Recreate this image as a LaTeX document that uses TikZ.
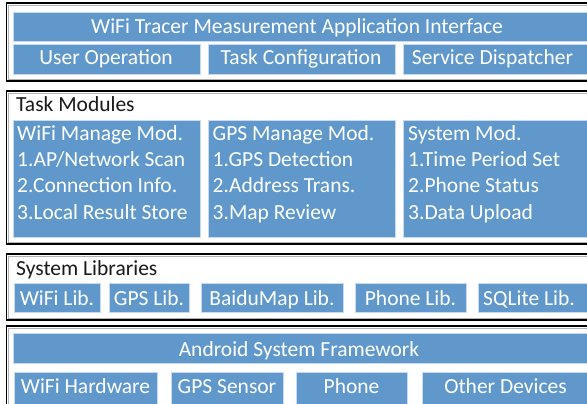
\documentclass[tikz,border=0pt]{standalone}
\usepackage{fontspec}
\setmainfont{Carlito}
\definecolor{blk}{RGB}{97,152,204}
\definecolor{blkedge}{RGB}{200,218,238}
\begin{document}
\begin{tikzpicture}[x=1pt,y=-1pt,
  outer/.style={draw=black,line width=1.7pt},
  inshade/.style={draw=black!30,line width=0.8pt},
  box/.style={fill=blk,draw=blkedge,line width=0.8pt},
  wtxt/.style={text=white,font=\fontsize{21.5}{26.4}\selectfont,inner sep=0pt,anchor=base},
  wltxt/.style={text=white,font=\fontsize{21.5}{26.4}\selectfont,inner sep=0pt,anchor=base west},
  ktxt/.style={text=black!90,font=\fontsize{21.5}{26.4}\selectfont,inner sep=0pt,anchor=base west}]
\useasboundingbox (0,0) rectangle (587,404);
\clip (0,0) rectangle (587,404);
\fill[white] (0,0) rectangle (587,404);

% outer frames
\draw[outer] (6.5,3) rectangle (600,81);
\draw[inshade] (8.5,5) -- (600,5) (8.5,5) -- (8.5,79) -- (600,79);
\draw[outer] (6.5,91) rectangle (600,244);
\draw[inshade] (8.5,93) -- (600,93) (8.5,93) -- (8.5,242) -- (600,242);
\draw[outer] (6.5,254) rectangle (600,320);
\draw[inshade] (8.5,256) -- (600,256) (8.5,256) -- (8.5,318) -- (600,318);
\draw[outer] (6.5,326) rectangle (600,420);
\draw[inshade] (8.5,328) -- (600,328) (8.5,328) -- (8.5,420);

% application interface layer
\path[box] (13,12) rectangle (592,41);
\node[wtxt] (api) at (297,33.3) {WiFi Tracer Measurement Application Interface};
\path[box] (13,44) rectangle (200,74);
\node[wtxt] (uop) at (106,65) {User Operation};
\path[box] (208,44) rectangle (395,74);
\node[wtxt] (tcf) at (301,65) {Task Configuration};
\path[box] (403,44) rectangle (592,74);
\node[wtxt] (sdp) at (492.5,65) {Service Dispatcher};

% task modules layer
\node[ktxt] (tm) at (16,111) {Task Modules};
\path[box] (13,120) rectangle (200,237);
\path[box] (208,120) rectangle (395,237);
\path[box] (403,120) rectangle (592,237);
\node[wltxt] (w0) at (17,140) {WiFi Manage Mod.};
\node[wltxt] (w1) at (17,166.4) {1.AP/Network Scan};
\node[wltxt] (w2) at (17,192.8) {2.Connection Info.};
\node[wltxt] (w3) at (17,219.2) {3.Local Result Store};
\node[wltxt] (g0) at (212.5,140) {GPS Manage Mod.};
\node[wltxt] (g1) at (212.5,166.4) {1.GPS Detection};
\node[wltxt] (g2) at (212.5,192.8) {2.Address Trans.};
\node[wltxt] (g3) at (212.5,219.2) {3.Map Review};
\node[wltxt] (s0) at (408,140) {System Mod.};
\node[wltxt] (s1) at (408,166.4) {1.Time Period Set};
\node[wltxt] (s2) at (408,192.8) {2.Phone Status};
\node[wltxt] (s3) at (408,219.2) {3.Data Upload};

% system libraries layer
\node[ktxt] (sl) at (16,275) {System Libraries};
\path[box] (14,283) rectangle (100,312);
\node[wtxt] (wl) at (57,305) {WiFi Lib.};
\path[box] (109,283) rectangle (189,312);
\node[wtxt] (gl) at (149,305) {GPS Lib.};
\path[box] (201,283) rectangle (343,312);
\node[wtxt] (bl) at (272,305) {BaiduMap Lib.};
\path[box] (355,283) rectangle (466,312);
\node[wtxt] (pl) at (410.5,305) {Phone Lib.};
\path[box] (478,283) rectangle (592,312);
\node[wtxt] (ql) at (529,305) {SQLite Lib.};

% android layer
\path[box] (13,333) rectangle (592,363);
\node[wtxt] (asf) at (299,356) {Android System Framework};
\path[box] (14,372) rectangle (157,410);
\node[wtxt] (wh) at (85.5,393) {WiFi Hardware};
\path[box] (171,372) rectangle (283,410);
\node[wtxt] (gs) at (227,393) {GPS Sensor};
\path[box] (296,372) rectangle (407,410);
\node[wtxt] (ph) at (351.5,393) {Phone};
\path[box] (422,372) rectangle (592,410);
\node[wtxt] (od) at (505.5,393) {Other Devices};
\end{tikzpicture}
\end{document}
